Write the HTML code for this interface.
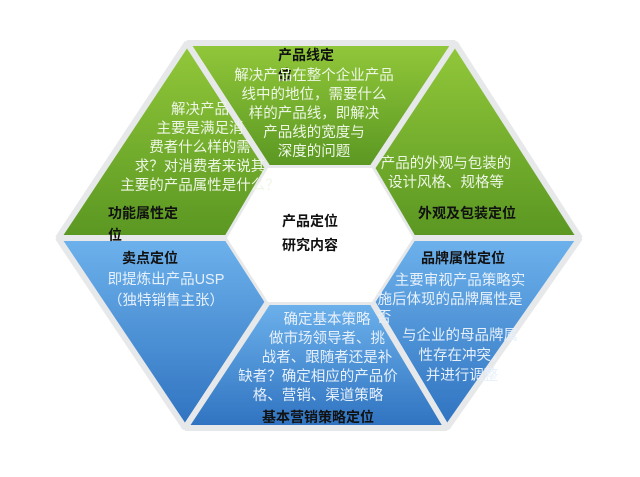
<!DOCTYPE html>
<html><head><meta charset="utf-8"><style>
html,body{margin:0;padding:0;background:#fff;}
svg{display:block;font-family:"Liberation Sans","Noto Sans CJK SC",sans-serif;}
.b{font-size:14.5px;fill:#eef6e6;}
.bb{font-size:14.5px;fill:#e6f0fb;}
.t{font-size:14px;font-weight:bold;fill:#111;}
</style></head><body>
<svg width="640" height="477" viewBox="0 0 640 477">
<defs>
<linearGradient id="g" x1="0" y1="0" x2="0" y2="1">
<stop offset="0" stop-color="#92c83a"/><stop offset="1" stop-color="#5a9722"/></linearGradient>
<linearGradient id="bl" x1="0" y1="0" x2="0" y2="1">
<stop offset="0" stop-color="#6db2ec"/><stop offset="1" stop-color="#2f72c0"/></linearGradient>
</defs>
<g stroke="#e6e8ea" stroke-width="6" stroke-linejoin="bevel">
<polygon points="187,43 455,43 372,168 268,168" fill="url(#g)"/>
<polygon points="187,43 268,168 227,238 58,238" fill="url(#g)"/>
<polygon points="455,43 580,238 413,238 372,168" fill="url(#g)"/>
<polygon points="58,238 227,238 268,302 185,428" fill="url(#bl)"/>
<polygon points="580,238 447,428 372,302 413,238" fill="url(#bl)"/>
<polygon points="268,302 372,302 447,428 185,428" fill="url(#bl)"/>
</g>
<polygon points="268,168 372,168 413,238 372,302 268,302 227,238" fill="#fff"/>
<text class="t" x="278" y="60">产品线定</text>
<text class="t" x="278" y="80">位</text>
<g class="b" text-anchor="middle">
<text x="314" y="80">解决产品在整个企业产品</text>
<text x="314" y="99">线中的地位，需要什么</text>
<text x="314" y="118">样的产品线，即解决</text>
<text x="314" y="137">产品线的宽度与</text>
<text x="314" y="156">深度的问题</text>
<text x="200" y="114">解决产品</text>
<text x="200" y="133">主要是满足消</text>
<text x="200" y="152">费者什么样的需</text>
<text x="200" y="171">求？对消费者来说其</text>
<text x="200" y="190">主要的产品属性是什么？</text>
<text x="446" y="168">产品的外观与包装的</text>
<text x="446" y="187">设计风格、规格等</text>
</g>
<text class="t" x="108" y="218">功能属性定</text>
<text class="t" x="108" y="240">位</text>
<text class="t" x="418" y="218">外观及包装定位</text>
<text class="t" x="282" y="226">产品定位</text>
<text class="t" x="282" y="250">研究内容</text>
<text class="t" x="122" y="263">卖点定位</text>
<text class="t" x="421" y="263">品牌属性定位</text>
<g class="bb" text-anchor="middle">
<text x="166" y="284">即提炼出产品USP</text>
<text x="166" y="305">（独特销售主张）</text>
<text x="460" y="285">主要审视产品策略实</text>
<text x="450" y="304">施后体现的品牌属性是</text>
<text x="384" y="322">否</text>
<text x="460" y="340">与企业的母品牌属</text>
<text x="462" y="360">性存在冲突，</text>
<text x="462" y="380">并进行调整</text>
<text x="327" y="324">确定基本策略</text>
<text x="327" y="343">做市场领导者、挑</text>
<text x="327" y="362">战者、跟随者还是补</text>
<text x="318" y="381">缺者？确定相应的产品价</text>
<text x="318" y="400">格、营销、渠道策略</text>
</g>
<text class="t" x="262" y="422">基本营销策略定位</text>
</svg>
</body></html>
